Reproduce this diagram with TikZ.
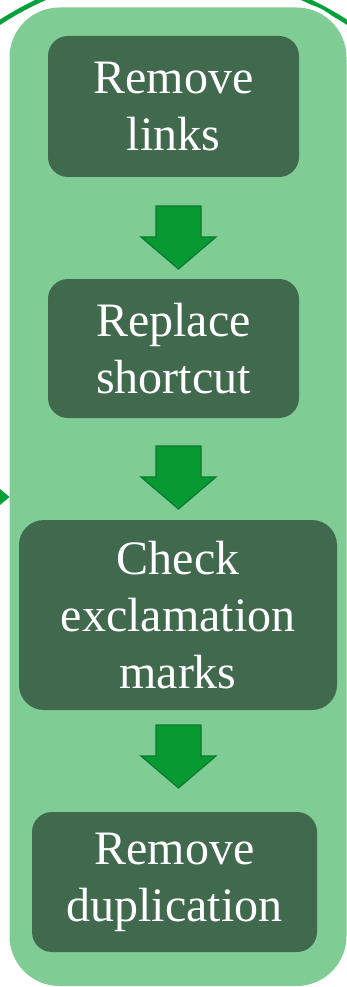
\documentclass[tikz,border=0pt]{standalone}
\usepackage{fontspec}
\setmainfont{Liberation Serif}
\definecolor{bglight}{HTML}{7FCD95}
\definecolor{boxdark}{HTML}{41694E}
\definecolor{arrfill}{HTML}{079A32}
\definecolor{arredge}{HTML}{0B7A2B}
\definecolor{ringgreen}{HTML}{00A03A}
\begin{document}
\begin{tikzpicture}[x=1pt,y=-1pt,
  stepbox/.style={fill=boxdark, rounded corners=20pt, text=white, align=center,
    font=\fontsize{48}{57}\selectfont, inner sep=0pt},
  downarrow/.style={fill=arrfill, draw=arredge, line width=1.2pt, line join=miter}]
\useasboundingbox (0,0) rectangle (347,987);
\clip (0,0) rectangle (347,987);
% ring behind (only its top part shows)
\coordinate (ringc) at (173.5,290);
\draw[ringgreen, line width=4.5pt] (ringc) ++(130:319pt) arc[start angle=130, end angle=50, radius=319pt];
% background panel with white halo
\draw[white, line width=9pt, rounded corners=50pt] (9.5,7.5) rectangle (346.5,986);
\fill[bglight, rounded corners=50pt] (9.5,7.5) rectangle (346.5,986);
% ring arrowhead touching the panel
\fill[ringgreen] (0,489) -- (9.5,497) -- (0,505) -- cycle;
% boxes
\node[stepbox, minimum width=251pt, minimum height=141pt] (b1) at (173.5,106.5) {Remove\\links};
\node[stepbox, minimum width=251pt, minimum height=139pt] (b2) at (173.5,348.5) {Replace\\shortcut};
\node[stepbox, minimum width=318pt, minimum height=190pt, rounded corners=25pt] (b3) at (178,615) {Check\\exclamation\\marks};
\node[stepbox, minimum width=285pt, minimum height=140pt] (b4) at (174.5,882) {Remove\\duplication};
% arrows
\foreach \t in {206,446,725}{
  \draw[downarrow] (156,\t) -- (201,\t) -- (201,\t+31) -- (216,\t+31) -- (178.5,\t+63)
     -- (141,\t+31) -- (156,\t+31) -- cycle;
}
\end{tikzpicture}
\end{document}
